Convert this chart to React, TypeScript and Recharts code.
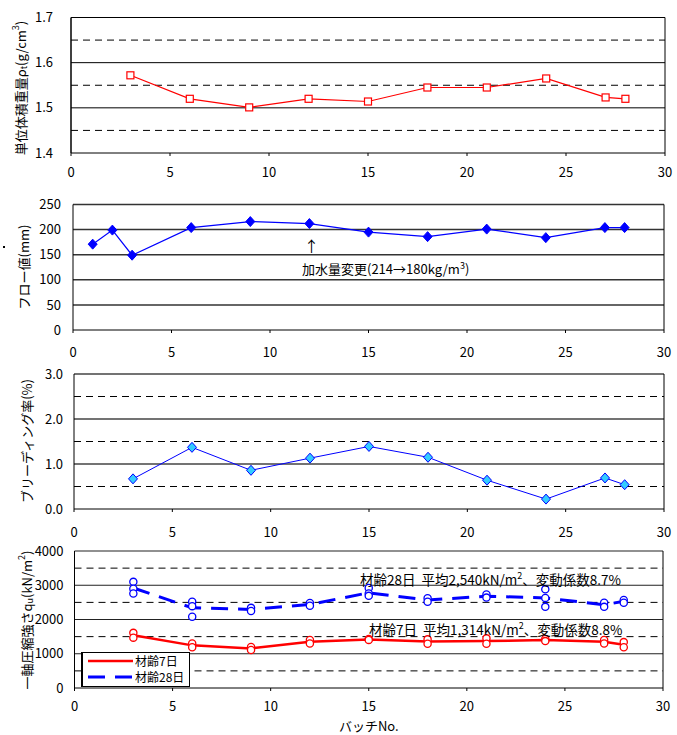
import React from 'react';
import { ComposedChart, Line, Scatter, XAxis, YAxis, ReferenceLine, Legend } from 'recharts';

// batch numbers and values
const batches = [3, 6, 9, 12, 15, 18, 21, 24, 27, 28];
const density = [1.572, 1.52, 1.501, 1.52, 1.514, 1.545, 1.545, 1.565, 1.523, 1.52];
const flowBatches = [1, 2, 3, 6, 9, 12, 15, 18, 21, 24, 27, 28];
const flow = [171, 199, 149, 204, 216, 212, 195, 186, 201, 184, 204, 204];
const bleeding = [0.67, 1.37, 0.86, 1.13, 1.39, 1.15, 0.64, 0.22, 0.69, 0.54];
const mean7 = [1540, 1245, 1155, 1350, 1415, 1355, 1370, 1400, 1350, 1265];
const mean28 = [2920, 2340, 2295, 2440, 2780, 2570, 2680, 2630, 2430, 2530];
const samples7Batch = [3, 3, 6, 6, 9, 9, 12, 12, 15, 15, 18, 18, 21, 21, 24, 24, 27, 27, 28, 28];
const samples7 = [1610, 1470, 1300, 1190, 1200, 1110, 1400, 1300, 1430, 1405, 1420, 1290, 1450, 1290, 1430, 1370, 1400, 1300, 1340, 1190];
const samples28Batch = [3, 3, 3, 6, 6, 6, 9, 9, 12, 12, 15, 15, 15, 18, 18, 21, 21, 24, 24, 24, 27, 27, 28, 28];
const samples28 = [3100, 2900, 2760, 2520, 2390, 2080, 2340, 2250, 2480, 2400, 2920, 2760, 2690, 2620, 2520, 2730, 2640, 2880, 2630, 2370, 2490, 2370, 2570, 2490];

const xTicks = [0, 5, 10, 15, 20, 25, 30];
const densityTicks = [1.4, 1.5, 1.6, 1.7];
const densitySolid = [1.5, 1.6, 1.7];
const densityDashed = [1.45, 1.55, 1.65];
const flowTicks = [0, 50, 100, 150, 200, 250];
const flowSolid = [50, 100, 150, 200, 250];
const bleedTicks = [0, 1, 2, 3];
const bleedSolid = [1, 2, 3];
const bleedDashed = [0.5, 1.5, 2.5];
const qTicks = [0, 1000, 2000, 3000, 4000];
const qSolid = [1000, 2000, 3000, 4000];
const qDashed = [500, 1500, 2500, 3500];

const zip = (xs: number[], ys: number[]) => xs.map((x, i) => ({ x, y: ys[i] }));
const densityData = zip(batches, density);
const flowData = zip(flowBatches, flow);
const bleedData = zip(batches, bleeding);
const mean7Data = zip(batches, mean7);
const mean28Data = zip(batches, mean28);
const s7Data = zip(samples7Batch, samples7);
const s28Data = zip(samples28Batch, samples28);

const FONT = "'Noto Sans CJK JP', 'Noto Sans', sans-serif";
const tick = { fontSize: 13, fill: '#000' };

const squareDot = (p: any) => (
  <rect key={p.index} x={p.cx - 3.5} y={p.cy - 3.5} width={7} height={7} fill="#fff" stroke="#ff0000" strokeWidth={1.2} />
);
const diamondDot = (fill: string, stroke: string) => (p: any) => (
  <path
    key={p.index}
    d={`M${p.cx},${p.cy - 5}L${p.cx + 4.5},${p.cy}L${p.cx},${p.cy + 5}L${p.cx - 4.5},${p.cy}Z`}
    fill={fill}
    stroke={stroke}
    strokeWidth={1}
  />
);
const circle = (color: string) => (p: any) => (
  <circle cx={p.cx} cy={p.cy} r={3.6} fill="#fff" stroke={color} strokeWidth={1.3} />
);

function yTitle(x: number, y: number, body: React.ReactNode) {
  return {
    content: () => (
      <text x={x} y={y} transform={`rotate(-90 ${x} ${y})`} textAnchor="middle" dominantBaseline="central" fontSize={13} fill="#000" fontFamily={FONT}>
        {body}
      </text>
    ),
  };
}

function grid(solid: number[], dashed: number[], solidColor = '#000', solidWidth = 1) {
  return [
    ...dashed.map((v) => <ReferenceLine key={'d' + v} y={v} stroke="#000" strokeDasharray="7 5" />),
    ...solid.map((v) => <ReferenceLine key={'s' + v} y={v} stroke={solidColor} strokeWidth={solidWidth} />),
    <ReferenceLine key="right" x={30} stroke="#000" />,
  ];
}

function xAxis(margin: number, extra: any = {}) {
  return (
    <XAxis
      type="number"
      dataKey="x"
      domain={[0, 30]}
      ticks={xTicks}
      interval={0}
      tick={tick}
      tickSize={3}
      tickMargin={margin}
      axisLine={{ stroke: '#000' }}
      tickLine={{ stroke: '#000' }}
      height={38}
      {...extra}
    />
  );
}

const legendRow: React.CSSProperties = { display: 'flex', alignItems: 'center', height: 16, lineHeight: 1 };
const legendContent = () => (
  <div style={{ width: 106, height: 33, border: '1px solid #000', borderLeftWidth: 2, background: '#fff', fontSize: 12, fontFamily: FONT, lineHeight: 1 }}>
    <div style={{ ...legendRow, marginTop: 0 }}>
      <svg width={52} height={8}><line x1={5} y1={4} x2={50} y2={4} stroke="#ff0000" strokeWidth={2.5} /></svg>
      <span>材齢7日</span>
    </div>
    <div style={legendRow}>
      <svg width={52} height={8}><line x1={5} y1={4} x2={50} y2={4} stroke="#0000ff" strokeWidth={3} strokeDasharray="17 10" /></svg>
      <span>材齢28日</span>
    </div>
  </div>
);

const abs = (left: number, top: number, size = 13): React.CSSProperties => ({
  position: 'absolute', left, top, fontSize: size, fontFamily: FONT, whiteSpace: 'pre', lineHeight: 1, color: '#000',
});

export default function App() {
  return (
    <div style={{ position: 'absolute', left: 0, top: 0, width: 677, height: 735, background: '#fff', fontFamily: FONT }}>
      <div style={{ position: 'absolute', left: 0, top: 0 }}>
        <ComposedChart width={677} height={191} margin={{ top: 17.5, right: 12, bottom: 0, left: 0 }} style={{ fontFamily: FONT }}>
          {xAxis(12)}
          <YAxis
            type="number"
            domain={[1.4, 1.7]}
            ticks={densityTicks}
            tickFormatter={(v) => v.toFixed(1)}
            tick={tick}
            tickLine={false}
            tickSize={0}
            tickMargin={18}
            axisLine={{ stroke: '#000', strokeWidth: 1.5 }}
            width={71}
            label={yTitle(20, 88, <>単位体積重量ρ<tspan dy={3} fontSize={9}>t</tspan><tspan dy={-3}>(g/cm</tspan><tspan dy={-5} fontSize={9}>3</tspan><tspan dy={5}>)</tspan></>)}
          />
          {grid(densitySolid, densityDashed)}
          <Line data={densityData} dataKey="y" stroke="#ff0000" strokeWidth={1.2} dot={squareDot} isAnimationActive={false} />
        </ComposedChart>
      </div>

      <div style={{ position: 'absolute', left: 0, top: 185 }}>
        <ComposedChart width={677} height={183} margin={{ top: 19.5, right: 13, bottom: 0, left: 0 }} style={{ fontFamily: FONT }}>
          {xAxis(15)}
          <YAxis
            type="number"
            domain={[0, 250]}
            ticks={flowTicks}
            tick={tick}
            tickLine={false}
            tickSize={0}
            tickMargin={12}
            axisLine={{ stroke: '#000' }}
            width={73}
            label={yTitle(23, 82, 'フロー値(mm)')}
          />
          {grid(flowSolid, [], '#333', 1.5)}
          <Line data={flowData} dataKey="y" stroke="#0000ff" strokeWidth={1.2} dot={diamondDot('#0000ff', '#0000ff')} isAnimationActive={false} />
        </ComposedChart>
      </div>
      <div style={{ position: 'absolute', left: 3, top: 246, width: 2, height: 2, background: '#000' }} />
      <span style={abs(304, 238, 15)}>↑</span>
      <span style={abs(302, 261, 13)}>加水量変更(214→180kg/m<sup style={{ fontSize: 9 }}>3</sup>)</span>

      <div style={{ position: 'absolute', left: 0, top: 360 }}>
        <ComposedChart width={677} height={187} margin={{ top: 14, right: 13, bottom: 0, left: 0 }} style={{ fontFamily: FONT }}>
          {xAxis(16)}
          <YAxis
            type="number"
            domain={[0, 3]}
            ticks={bleedTicks}
            tickFormatter={(v) => v.toFixed(1)}
            tick={tick}
            tickLine={false}
            tickSize={0}
            tickMargin={11}
            axisLine={{ stroke: '#000' }}
            width={74}
            label={yTitle(26, 81, 'ブリーディング率(%)')}
          />
          {grid(bleedSolid, bleedDashed, '#444', 1.5)}
          <Line data={bleedData} dataKey="y" stroke="#0000ff" strokeWidth={1} dot={diamondDot('#33ccff', '#0000ff')} isAnimationActive={false} />
        </ComposedChart>
      </div>

      <div style={{ position: 'absolute', left: 0, top: 540 }}>
        <ComposedChart width={677} height={195} margin={{ top: 11, right: 14, bottom: 0, left: 0 }} style={{ fontFamily: FONT }}>
          {xAxis(11, { height: 47, label: { value: 'バッチNo.', position: 'insideBottom', offset: 4, fontSize: 13, fill: '#000' } })}
          <YAxis
            type="number"
            domain={[0, 4000]}
            ticks={qTicks}
            tick={tick}
            tickLine={false}
            tickSize={0}
            tickMargin={11}
            axisLine={{ stroke: '#000' }}
            width={74.5}
            label={yTitle(26, 80, <>一軸圧縮強さq<tspan dy={3} fontSize={9}>u</tspan><tspan dy={-3}>(kN/m</tspan><tspan dy={-5} fontSize={9}>2</tspan><tspan dy={5}>)</tspan></>)}
          />
          {grid(qSolid, qDashed, '#222', 1.2)}
          <Line data={mean7Data} dataKey="y" stroke="#ff0000" strokeWidth={2.5} dot={false} isAnimationActive={false} />
          <Line data={mean28Data} dataKey="y" stroke="#0000ff" strokeWidth={3} strokeDasharray="17 10" dot={false} isAnimationActive={false} />
          <Scatter data={s7Data} dataKey="y" shape={circle('#ff0000')} isAnimationActive={false} />
          <Scatter data={s28Data} dataKey="y" shape={circle('#0000ff')} isAnimationActive={false} />
          <Legend
            layout="horizontal"
            align="center"
            verticalAlign="middle"
            content={legendContent}
            wrapperStyle={{ left: 81, top: 112, width: 108, height: 35 }}
          />
        </ComposedChart>
      </div>
      <span style={abs(360, 571, 13.5)}>材齢28日  平均2,540kN/m<sup style={{ fontSize: 9 }}>2</sup>、変動係数8.7%</span>
      <span style={abs(369, 621, 13.5)}>材齢7日  平均1,314kN/m<sup style={{ fontSize: 9 }}>2</sup>、変動係数8.8%</span>
    </div>
  );
}
